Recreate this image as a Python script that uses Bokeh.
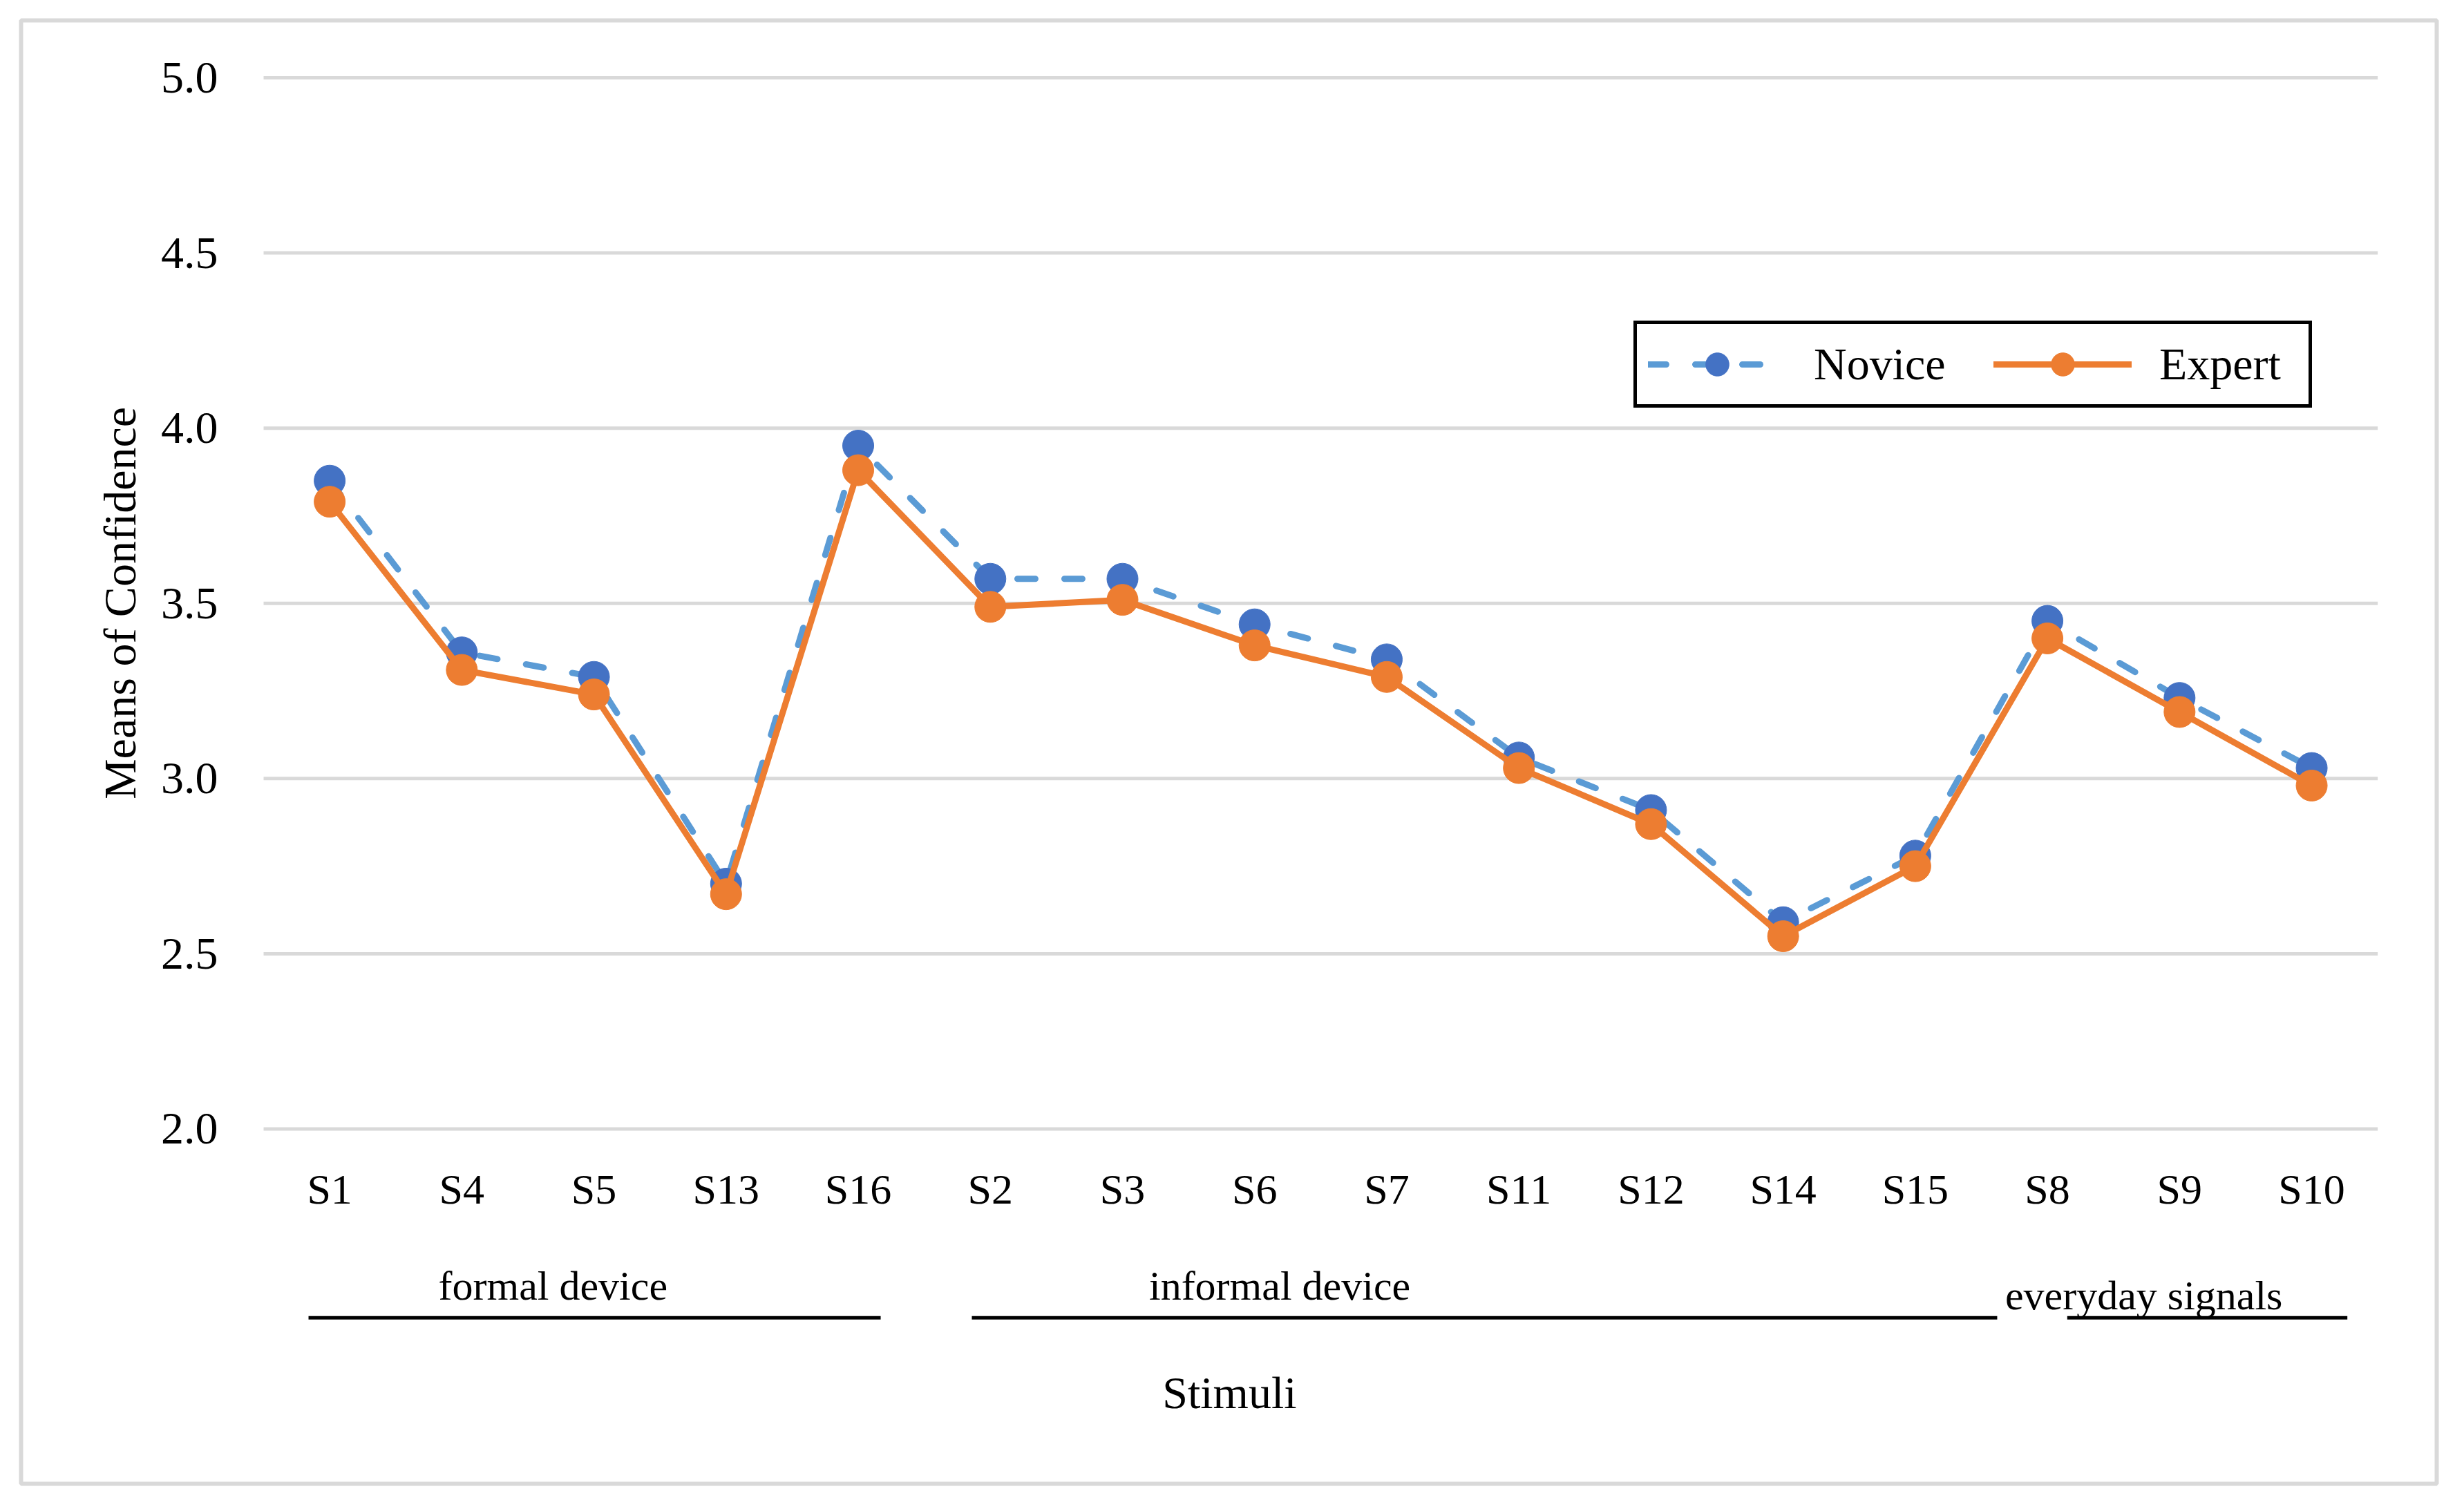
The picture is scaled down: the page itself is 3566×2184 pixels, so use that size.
from bokeh.plotting import figure
from bokeh.models import (Range1d, FixedTicker, NumeralTickFormatter,
                          Legend, LegendItem)
from bokeh.core.properties import value
from bokeh.embed import file_html
from bokeh.resources import INLINE

# ---------------- data ----------------
stimuli = ["S1", "S4", "S5", "S13", "S16", "S2", "S3", "S6", "S7", "S11",
           "S12", "S14", "S15", "S8", "S9", "S10"]
novice = [3.85, 3.36, 3.29, 2.70, 3.95, 3.57, 3.57, 3.44, 3.34, 3.06,
          2.91, 2.59, 2.78, 3.45, 3.23, 3.03]
expert = [3.79, 3.31, 3.24, 2.67, 3.88, 3.49, 3.51, 3.38, 3.29, 3.03,
          2.87, 2.55, 2.75, 3.40, 3.19, 2.98]
y_ticks = [2.0, 2.5, 3.0, 3.5, 4.0, 4.5, 5.0]
group_names = ["formal device", "informal device", "everyday signals"]
group_first = ["S1", "S2", "S8"]
group_last = ["S16", "S15", "S10"]
series_names = ["Novice", "Expert"]
y_title = "Means of Confidence"
x_title = "Stimuli"

# ---------------- layout / style ----------------
FONT = "Liberation Serif"
W, H = 3550, 2168
n = len(stimuli)
# category slot i occupies [i, i+1]; centre at i + 0.5
xc = [i + 0.5 for i in range(n)]
pos = dict(zip(stimuli, xc))

# group decoration offsets (category units, relative to first/last member centres)
line_pad_left = [-0.16, -0.14, 0.15]
line_pad_right = [0.17, 0.62, 0.27]
label_shift = [1.69, 2.19, 0.73]
label_y = [1.552, 1.552, 1.524]
line_y = 1.461
xtitle_pos = (7.31, 1.247)

p = figure(width=W, height=H, output_backend="svg", toolbar_location=None,
           x_range=Range1d(-1.8355, 16.4462), y_range=Range1d(0.9874, 5.1637),
           min_border_left=30, min_border_right=24, min_border_top=29,
           min_border_bottom=21, background_fill_color="white",
           border_fill_color="white")
p.outline_line_color = "#D9D9D9"
p.outline_line_width = 6
p.outline_line_alpha = 1.0

# grid lines only across the plotting area
p.xgrid.grid_line_color = None
p.ygrid.grid_line_color = None
p.segment(x0=[0] * len(y_ticks), y0=y_ticks, x1=[n] * len(y_ticks), y1=y_ticks,
          line_color="#D9D9D9", line_width=5)

# axes (fixed inside the frame)
p.yaxis.fixed_location = 0
p.yaxis.bounds = (y_ticks[0], y_ticks[-1])
p.yaxis.ticker = FixedTicker(ticks=y_ticks)
p.yaxis.formatter = NumeralTickFormatter(format="0.0")
p.xaxis.fixed_location = y_ticks[0]
p.xaxis.bounds = (0, n)
p.xaxis.ticker = FixedTicker(ticks=xc)
p.xaxis.major_label_overrides = {x: s for x, s in zip(xc, stimuli)}

for ax in (p.xaxis[0], p.yaxis[0]):
    ax.axis_line_color = None
    ax.major_tick_line_color = None
    ax.minor_tick_line_color = None
    ax.major_label_text_font = FONT
    ax.major_label_text_color = "black"

p.yaxis.major_label_text_font_size = "66px"
p.yaxis.major_label_standoff = 60
p.yaxis.axis_label = y_title
p.yaxis.axis_label_text_font = FONT
p.yaxis.axis_label_text_font_style = "normal"
p.yaxis.axis_label_text_font_size = "66px"
p.yaxis.axis_label_text_color = "black"
p.yaxis.axis_label_standoff = 20

p.xaxis.major_label_text_font_size = "62px"
p.xaxis.major_label_standoff = 47

# series
nl = p.line(xc, novice, line_color="#5B9BD5", line_width=9,
            line_dash="26 42", line_cap="round")
ns = p.scatter(xc, novice, size=45, fill_color="#4472C4", line_color="#4472C4")
el = p.line(xc, expert, line_color="#ED7D31", line_width=9, line_cap="round",
            line_join="round")
es = p.scatter(xc, expert, size=45, fill_color="#ED7D31", line_color="#ED7D31")

legend = Legend(items=[LegendItem(label=series_names[0], renderers=[nl, ns]),
                       LegendItem(label=series_names[1], renderers=[el, es])],
                location=(2334, 1557), orientation="horizontal",
                padding=16, spacing=60, glyph_width=200, glyph_height=84,
                label_standoff=40, label_width=200,
                label_text_font=FONT, label_text_font_size="66px",
                label_text_color="black",
                border_line_color="black", border_line_width=5,
                border_line_alpha=1.0,
                background_fill_color="white", background_fill_alpha=1.0)
p.add_layout(legend, "center")

# group labels and underlines
gx0 = [pos[f] + d for f, d in zip(group_first, line_pad_left)]
gx1 = [pos[l] + d for l, d in zip(group_last, line_pad_right)]
p.segment(x0=gx0, y0=[line_y] * len(gx0), x1=gx1, y1=[line_y] * len(gx1),
          line_color="black", line_width=5)
p.text(x=[pos[f] + s for f, s in zip(group_first, label_shift)], y=label_y,
       text=group_names, text_font=value(FONT), text_font_size="60px",
       text_align="center", text_baseline="middle", text_color="black")
p.text(x=[xtitle_pos[0]], y=[xtitle_pos[1]], text=[x_title], text_font=value(FONT),
       text_font_size="66px", text_align="center", text_baseline="middle",
       text_color="black")

open("out.html", "w").write(file_html(p, INLINE))
